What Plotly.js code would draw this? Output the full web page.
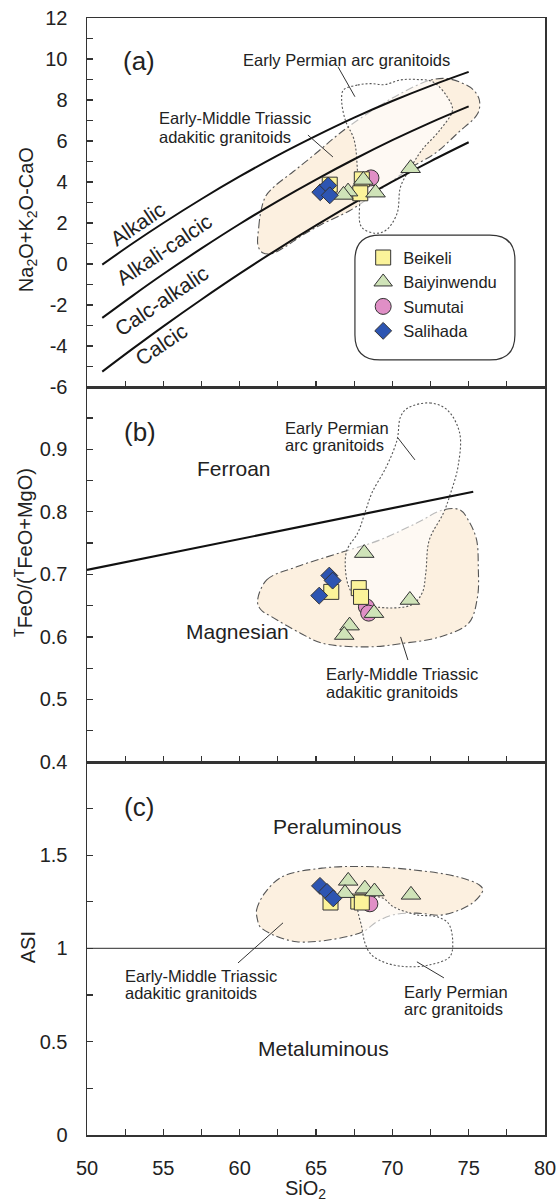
<!DOCTYPE html>
<html><head><meta charset="utf-8">
<script src="https://cdn.plot.ly/plotly-3.0.1.min.js"></script>
<style>html,body{margin:0;padding:0;background:#fff}#chart{width:560px;height:1201px}</style>
</head><body><div id="chart"></div>
<script>
// ---------------- DATA ----------------
const seriesNames = ['Beikeli', 'Baiyinwendu', 'Sumutai', 'Salihada'];

// Panel (a): SiO2 vs Na2O+K2O-CaO
const beikeliA_x = [65.9, 68.0, 67.9];
const beikeliA_y = [3.87, 4.13, 3.45];
const baiyinA_x = [67.1, 66.8, 68.1, 68.9, 71.2];
const baiyinA_y = [3.53, 3.37, 4.10, 3.48, 4.67];
const sumutaiA_x = [68.6];
const sumutaiA_y = [4.2];
const salihadaA_x = [65.28, 65.8, 65.9];
const salihadaA_y = [3.5, 3.83, 3.35];

// Panel (b): SiO2 vs FeOT/(FeOT+MgO)
const beikeliB_x = [66.0, 67.8, 67.95];
const beikeliB_y = [0.672, 0.678, 0.664];
const baiyinB_x = [68.16, 71.15, 68.8, 67.2, 66.85];
const baiyinB_y = [0.734, 0.659, 0.638, 0.618, 0.603];
const sumutaiB_x = [68.3, 68.45];
const sumutaiB_y = [0.648, 0.638];
const salihadaB_x = [65.87, 66.09, 65.21];
const salihadaB_y = [0.698, 0.690, 0.666];

// Panel (c): SiO2 vs ASI
const beikeliC_x = [65.95, 67.77, 68.0];
const beikeliC_y = [1.246, 1.251, 1.246];
const baiyinC_x = [67.11, 66.9, 68.2, 68.83, 71.22];
const baiyinC_y = [1.362, 1.296, 1.32, 1.305, 1.287];
const sumutaiC_x = [68.53];
const sumutaiC_y = [1.239];
const salihadaC_x = [65.26, 65.72, 66.13];
const salihadaC_y = [1.335, 1.303, 1.268];

// MALI boundary lines (panel a)
const maliX = [51, 53, 55, 57.5, 60, 62.5, 65, 67.5, 70, 72.5, 75];
const alkalicBoundY = [-0.03, 1.01, 2.0, 3.17, 4.27, 5.30, 6.25, 7.14, 7.95, 8.69, 9.37];
const alkCalcBoundY = [-2.63, -1.54, -0.49, 0.76, 1.95, 3.07, 4.12, 5.11, 6.04, 6.90, 7.69];
const calcAlkBoundY = [-5.25, -4.13, -3.04, -1.73, -0.47, 0.73, 1.88, 2.98, 4.02, 5.01, 5.94];

// Fe-number boundary (panel b)
const feX = [50, 75.3];
const feY = [0.707, 0.832];

// ASI = 1 (panel c)
const asiX = [50, 80];
const asiY = [1, 1];

// Fields
const adakA_x = [61.2,61.25,61.4,61.7,62.3,63.5,65,66.6,68.7,70.5,72.4,73.5,74.5,75.3,75.7,75.6,74.3,72.8,71.2,70,68.9,67.2,65.4,64,63,62.1,61.5,61.2];
const adakA_y = [0.9,1.8,2.6,3.3,3.8,4.5,5.4,6.4,7.5,8.3,8.95,9.05,8.85,8.5,8.0,7.35,6.4,5.4,4.7,4.05,3.45,2.6,1.95,1.35,0.85,0.5,0.55,0.9];
const permA_x = [66.8,67.73,68.6,69.5,70.54,71.6,72.65,73.59,73.94,73.12,71.94,71.24,70.54,70.31,69.61,68.91,67.97,67.85,67.73,67.5,66.92,66.68,66.8];
const permA_y = [8.49,8.73,8.8,8.75,8.98,9.0,8.89,8.16,7.51,6.54,5.56,4.75,3.77,2.47,1.66,1.5,1.82,3.12,4.42,6.05,7.02,8.0,8.49];

const adakB_x = [61.17,61.77,63.73,66.78,69.19,71.59,73.33,74.43,75.08,75.52,75.63,75.58,75.0,73.12,70.8,68.43,65.39,63.98,62.11,61.41,61.17];
const adakB_y = [0.656,0.691,0.712,0.736,0.755,0.782,0.803,0.803,0.782,0.755,0.712,0.664,0.622,0.600,0.590,0.584,0.590,0.606,0.632,0.643,0.656];
const permB_x = [71.02,72.46,73.59,74.41,74.3,73.82,73.35,72.42,72.19,71.95,71.24,68.91,67.73,67.15,66.92,67.03,67.73,68.2,68.66,69.61,70.31,70.54,71.02];
const permB_y = [0.966,0.974,0.963,0.926,0.872,0.830,0.798,0.755,0.702,0.670,0.651,0.648,0.659,0.680,0.712,0.739,0.766,0.798,0.830,0.872,0.915,0.952,0.966];

const adakC_x = [61.17,61.11,61.64,62.81,65.39,68.09,71.37,74.21,75.7,75.93,75.23,73.33,71.59,70.06,68.97,68.09,65.91,63.73,62.2,61.33,61.17];
const adakC_y = [1.153,1.206,1.296,1.385,1.430,1.439,1.421,1.385,1.340,1.314,1.242,1.180,1.189,1.180,1.142,1.090,1.046,1.036,1.072,1.117,1.153];
const permC_x = [67.68,68.53,69.4,70.06,71.59,72.9,73.66,73.95,73.77,72.46,70.94,69.63,68.64,68.21,67.99,67.77,67.68];
const permC_y = [1.255,1.278,1.269,1.224,1.180,1.170,1.135,1.046,0.956,0.912,0.902,0.921,0.965,1.028,1.117,1.189,1.255];

// Tick labels
const yTickValsA = [-6,-4,-2,0,2,4,6,8,10,12];
const yTickTextA = ['-6','-4','-2','0','2','4','6','8','10','12'];

// ---------------- STYLE ----------------
const FONT = 'Liberation Sans, Arial, Helvetica, sans-serif';
const ADAK_FILL = '#fcf0e0';
const PERM_FILL = 'rgba(255,255,255,0.6)';
const FIELD_LINE = '#555';
const styles = {
  Beikeli:     {symbol:'square',      size:15, color:'#fbf39a'},
  Baiyinwendu: {symbol:'triangle-up', size:17, color:'#cfe3b8'},
  Sumutai:     {symbol:'circle',      size:16, color:'#e08fc6'},
  Salihada:    {symbol:'diamond',     size:13, color:'#2d55b2'}
};
const legendRank = {Beikeli:1, Baiyinwendu:2, Sumutai:3, Salihada:4};

const traces = [];
function field(x, y, xa, ya, fill, dash) {
  traces.push({x:x, y:y, xaxis:xa, yaxis:ya, type:'scatter', mode:'lines', fill:'toself',
    fillcolor:fill, line:{color:FIELD_LINE, width:1.1, dash:dash, shape:'spline', smoothing:1},
    hoverinfo:'skip', showlegend:false});
}
function line(x, y, xa, ya, w, c) {
  traces.push({x:x, y:y, xaxis:xa, yaxis:ya, type:'scatter', mode:'lines',
    line:{color:c, width:w, shape:'spline'}, hoverinfo:'skip', showlegend:false});
}
function pts(name, x, y, xa, ya, showleg) {
  const s = styles[name];
  traces.push({x:x, y:y, xaxis:xa, yaxis:ya, type:'scatter', mode:'markers', name:name,
    legendgroup:name, legendrank:legendRank[name], showlegend:showleg,
    marker:{symbol:s.symbol, size:s.size, color:s.color, line:{color:'#333', width:1}}});
}

// Panel a (x3,y3)
field(adakA_x, adakA_y, 'x3', 'y3', ADAK_FILL, '8px,3px,2px,3px');
field(permA_x, permA_y, 'x3', 'y3', PERM_FILL, '2px,2px');
line(maliX, alkalicBoundY, 'x3', 'y3', 2, '#111');
line(maliX, alkCalcBoundY, 'x3', 'y3', 2, '#111');
line(maliX, calcAlkBoundY, 'x3', 'y3', 2, '#111');
// Panel b (x2,y2)
field(adakB_x, adakB_y, 'x2', 'y2', ADAK_FILL, '8px,3px,2px,3px');
field(permB_x, permB_y, 'x2', 'y2', PERM_FILL, '2px,2px');
line(feX, feY, 'x2', 'y2', 2.2, '#111');
// Panel c (x,y)
field(adakC_x, adakC_y, 'x', 'y', ADAK_FILL, '8px,3px,2px,3px');
field(permC_x, permC_y, 'x', 'y', PERM_FILL, '2px,2px');
line(asiX, asiY, 'x', 'y', 1.4, '#555');

// points: draw order Sumutai, Beikeli, Baiyinwendu, Salihada
pts('Sumutai', sumutaiA_x, sumutaiA_y, 'x3', 'y3', true);
pts('Beikeli', beikeliA_x, beikeliA_y, 'x3', 'y3', true);
pts('Baiyinwendu', baiyinA_x, baiyinA_y, 'x3', 'y3', true);
pts('Salihada', salihadaA_x, salihadaA_y, 'x3', 'y3', true);
pts('Sumutai', sumutaiB_x, sumutaiB_y, 'x2', 'y2', false);
pts('Beikeli', beikeliB_x, beikeliB_y, 'x2', 'y2', false);
pts('Baiyinwendu', baiyinB_x, baiyinB_y, 'x2', 'y2', false);
pts('Salihada', salihadaB_x, salihadaB_y, 'x2', 'y2', false);
pts('Sumutai', sumutaiC_x, sumutaiC_y, 'x', 'y', false);
pts('Beikeli', beikeliC_x, beikeliC_y, 'x', 'y', false);
pts('Baiyinwendu', baiyinC_x, baiyinC_y, 'x', 'y', false);
pts('Salihada', salihadaC_x, salihadaC_y, 'x', 'y', false);

const tickFont = {family:FONT, size:20, color:'#222'};
const minorBase = {ticks:'inside', ticklen:6, tickwidth:1.2, tickcolor:'#333'};
const axBase = {showline:true, linecolor:'#333', linewidth:1.5, mirror:true, ticks:'inside',
  ticklen:6, tickwidth:1.2, tickcolor:'#333', showgrid:false, zeroline:false, tickfont:tickFont};

const xBase = Object.assign({}, axBase, {range:[50,80], tickmode:'linear', tick0:50, dtick:5,
  minor:Object.assign({tickmode:'linear', tick0:50, dtick:2.5}, minorBase)});

const dA = 369/1117, dB = 375/1117;
const layout = {
  width:560, height:1201, margin:{l:87, r:15, t:18, b:66},
  paper_bgcolor:'#fff', plot_bgcolor:'rgba(0,0,0,0)', font:{family:FONT, color:'#222'},
  showlegend:true,
  legend:{x:0.603, y:0.801, xanchor:'left', yanchor:'top', bgcolor:'rgba(0,0,0,0)', borderwidth:0,
    font:{family:FONT, size:16.5, color:'#222'}, tracegroupgap:5, itemsizing:'trace', traceorder:'normal'},
  xaxis: Object.assign({}, xBase, {anchor:'y', ticklabelstandoff:14}),
  xaxis2: Object.assign({}, xBase, {anchor:'y2', showticklabels:false}),
  xaxis3: Object.assign({}, xBase, {anchor:'y3', showticklabels:false}),
  yaxis: Object.assign({}, axBase, {domain:[0, 1-dA-dB], range:[0,1.999], tickmode:'linear', tick0:0, dtick:0.5,
    ticklabelstandoff:14, minor:Object.assign({tickmode:'linear', tick0:0, dtick:0.25}, minorBase)}),
  yaxis2: Object.assign({}, axBase, {domain:[1-dA-dB, 1-dA], range:[0.4,0.9995], tickmode:'linear', tick0:0.4, dtick:0.1,
    ticklabelstandoff:14, minor:Object.assign({tickmode:'linear', tick0:0.4, dtick:0.05}, minorBase)}),
  yaxis3: Object.assign({}, axBase, {domain:[1-dA, 1], range:[-6,12], tickmode:'array', tickvals:yTickValsA, ticktext:yTickTextA,
    ticklabelstandoff:14, minor:Object.assign({tickmode:'linear', tick0:-6, dtick:1}, minorBase)}),
  shapes: [],
  annotations: []
};

// legend rounded box (panel a data coords)
const bx0=67.55, bx1=78.03, by0=-4.68, by1=1.41, rx=1.64, ry=1.22;
layout.shapes.push({type:'path', xref:'x3', yref:'y3', layer:'below', fillcolor:'#fff', line:{color:'#333', width:1.2},
  path:`M ${bx0+rx},${by1} L ${bx1-rx},${by1} Q ${bx1},${by1} ${bx1},${by1-ry} L ${bx1},${by0+ry} Q ${bx1},${by0} ${bx1-rx},${by0} L ${bx0+rx},${by0} Q ${bx0},${by0} ${bx0},${by0+ry} L ${bx0},${by1-ry} Q ${bx0},${by1} ${bx0+rx},${by1} Z`});

function leader(xa, ya, x0, y0, x1, y1) {
  layout.shapes.push({type:'line', xref:xa, yref:ya, x0:x0, y0:y0, x1:x1, y1:y1, line:{color:'#333', width:1}});
}
leader('x3','y3', 66.44, 9.62, 67.55, 8.16);
leader('x3','y3', 64.47, 6.29, 66.11, 5.22);
leader('x2','y2', 70.37, 0.918, 71.48, 0.883);
leader('x2','y2', 70.54, 0.600, 71.02, 0.563);
leader('x','y', 59.89, 0.922, 62.84, 1.137);
leader('x','y', 71.61, 0.928, 73.38, 0.842);

function ann(xa, ya, x, y, text, size, opts) {
  layout.annotations.push(Object.assign({xref:xa, yref:ya, x:x, y:y, text:text, showarrow:false,
    font:{family:FONT, size:size, color:'#222'}, xanchor:'center', yanchor:'middle'}, opts||{}));
}
const SMALL = 16.5, REG = 21;
// panel a
ann('x3','y3', 53.41, 9.9, '(a)', 26);
ann('x3','y3', 67.03, 9.95, 'Early Permian arc granitoids', SMALL);
ann('x3','y3', 54.58, 7.12, 'Early-Middle Triassic', SMALL, {xanchor:'left'});
ann('x3','y3', 54.58, 6.2, 'adakitic granitoids', SMALL, {xanchor:'left'});
ann('x3','y3', 53.34, 2.0, 'Alkalic', REG, {textangle:-34});
ann('x3','y3', 55.04, 0.73, 'Alkali-calcic', REG, {textangle:-34});
ann('x3','y3', 54.91, -1.8, 'Calc-alkalic', REG, {textangle:-34});
ann('x3','y3', 54.85, -3.95, 'Calcic', REG, {textangle:-34});
// panel b
ann('x2','y2', 53.44, 0.928, '(b)', 26);
ann('x2','y2', 59.63, 0.869, 'Ferroan', REG);
ann('x2','y2', 59.89, 0.608, 'Magnesian', REG);
ann('x2','y2', 62.84, 0.934, 'Early Permian', SMALL, {xanchor:'left'});
ann('x2','y2', 62.84, 0.906, 'arc granitoids', SMALL, {xanchor:'left'});
ann('x2','y2', 65.52, 0.541, 'Early-Middle Triassic', SMALL, {xanchor:'left'});
ann('x2','y2', 65.52, 0.512, 'adakitic granitoids', SMALL, {xanchor:'left'});
// panel c
ann('x','y', 53.41, 1.759, '(c)', 26);
ann('x','y', 66.37, 1.651, 'Peraluminous', REG);
ann('x','y', 65.46, 0.461, 'Metaluminous', REG);
ann('x','y', 52.36, 0.853, 'Early-Middle Triassic', SMALL, {xanchor:'left'});
ann('x','y', 52.36, 0.761, 'adakitic granitoids', SMALL, {xanchor:'left'});
ann('x','y', 70.66, 0.768, 'Early Permian', SMALL, {xanchor:'left'});
ann('x','y', 70.66, 0.675, 'arc granitoids', SMALL, {xanchor:'left'});

// axis titles
ann('paper','paper', -0.131, 0.819, 'Na<sub>2</sub>O+K<sub>2</sub>O-CaO', 20, {textangle:-90});
ann('paper','paper', -0.1376, 0.522, '<sup>T</sup>FeO/(<sup>T</sup>FeO+MgO)', 20, {textangle:-90});
ann('paper','paper', -0.129, 0.168, 'ASI', 20, {textangle:-90});
ann('paper','paper', 0.478, -0.049, 'SiO<sub>2</sub>', 20);

Plotly.newPlot('chart', traces, layout, {staticPlot:true, displayModeBar:false});
</script></body></html>
